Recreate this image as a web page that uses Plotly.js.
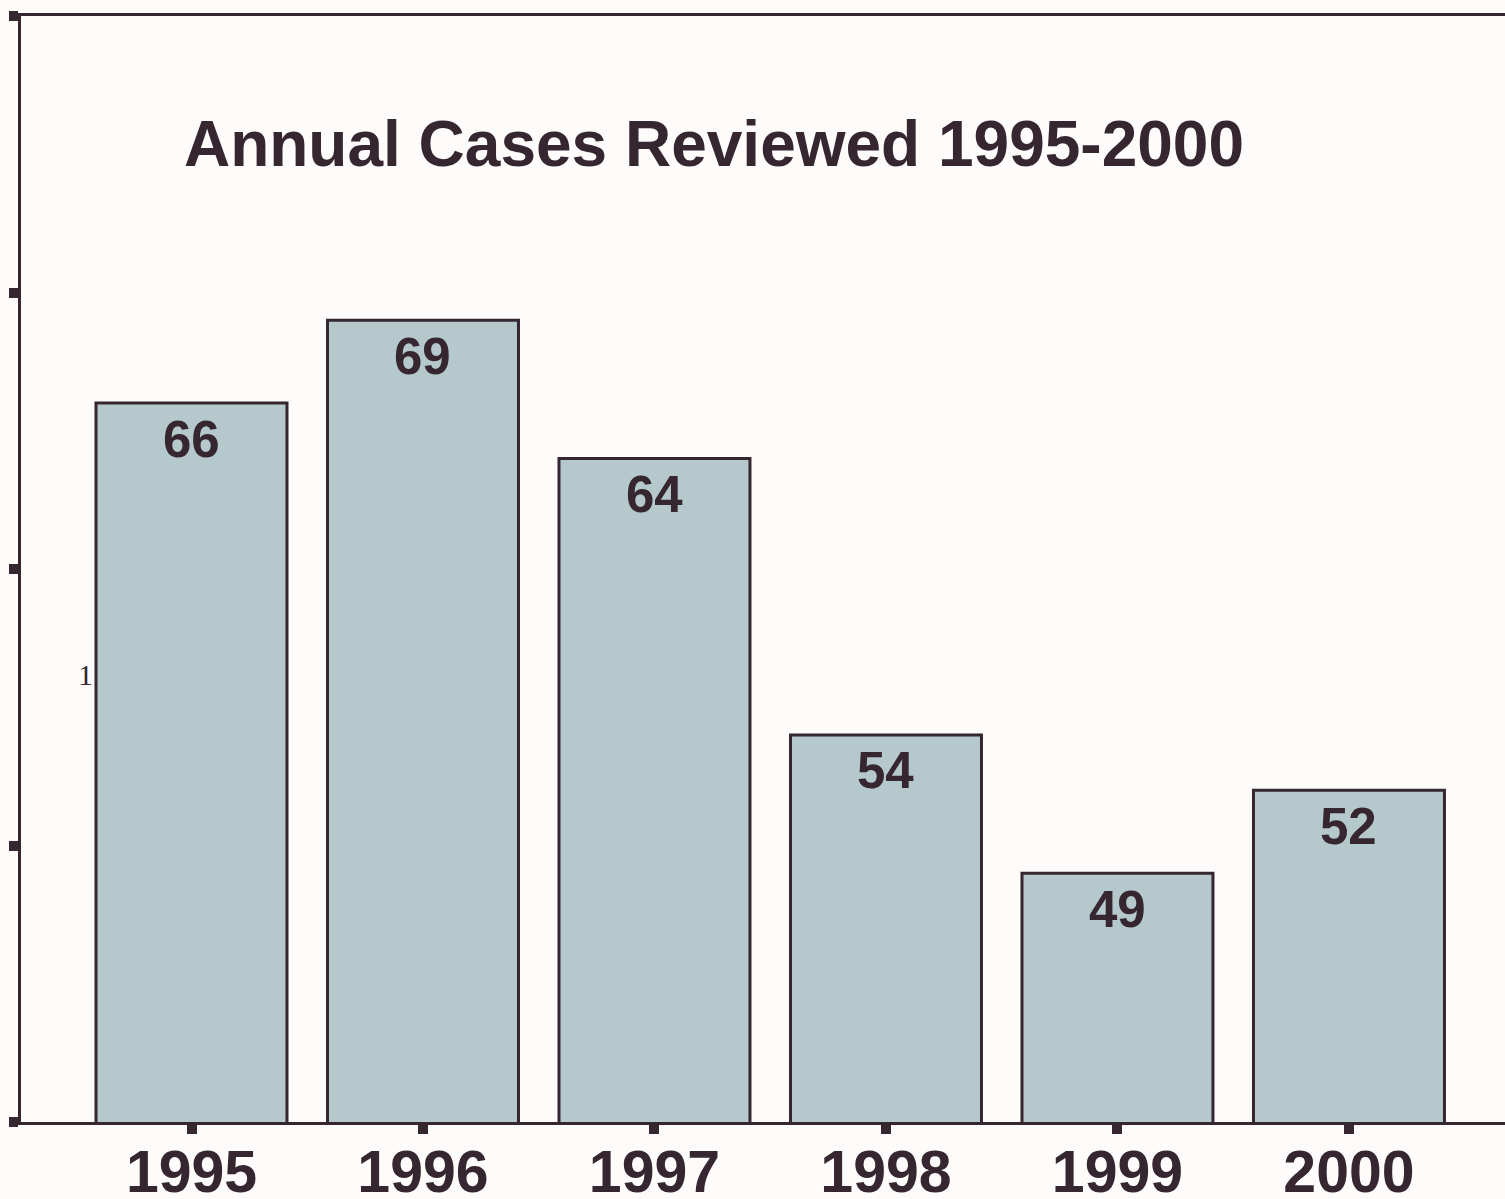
<!DOCTYPE html>
<html>
<head>
<meta charset="utf-8">
<script src="https://cdn.plot.ly/plotly-3.0.1.min.js"></script>
<style>html,body{margin:0;padding:0;background:#fdfcfb;}#chart{width:1505px;height:1199px;}</style>
</head>
<body>
<div id="chart"></div>
<script>
const years = ["1995", "1996", "1997", "1998", "1999", "2000"];
const cases = [66, 69, 64, 54, 49, 52];
const yTicks = [40, 50, 60, 70, 80];
const titleText = "Annual Cases Reviewed 1995-2000";
const strayLabel = "1";

const ink = "#35262f";
const font = "Liberation Sans, Arial, Helvetica, sans-serif";

const trace = {
  type: "bar",
  x: years,
  y: cases,
  width: 0.825,
  marker: { color: "#b5c8cc", line: { color: ink, width: 3 } },
  hoverinfo: "none"
};

const annotations = years.map((yr, i) => ({
  x: i, y: cases[i], xref: "x", yref: "y",
  text: "<b>" + String(cases[i]) + "</b>", showarrow: false,
  yanchor: "middle", xanchor: "center", yshift: -36,
  font: { family: font, size: 51, color: ink }
}));
annotations.push({
  xref: "paper", yref: "paper", x: 0.0434, y: 0.405,
  text: strayLabel, showarrow: false, xanchor: "center", yanchor: "middle",
  font: { family: "Liberation Serif, Times New Roman, serif", size: 30, color: ink }
});

const layout = {
  width: 1505, height: 1199,
  paper_bgcolor: "#fdfcfb", plot_bgcolor: "#fdfcfb",
  margin: { l: 21, r: 0, t: 16, b: 77, pad: 0 },
  showlegend: false,
  font: { family: font, color: ink },
  title: {
    text: "<b>" + titleText + "</b>",
    xref: "container", yref: "container",
    x: 0.4744, y: 0.880, xanchor: "center", yanchor: "middle",
    font: { family: font, size: 64, color: ink }
  },
  xaxis: {
    type: "category",
    range: [-0.7365, 5.674],
    showline: true, linecolor: ink, linewidth: 3, mirror: true,
    ticks: "outside", ticklen: 9, tickwidth: 10, tickcolor: ink,
    ticklabelstandoff: -13,
    showgrid: false, zeroline: false,
    tickfont: { family: font, size: 59, color: ink, weight: "bold" },
    fixedrange: true
  },
  yaxis: {
    range: [40, 80],
    tickvals: yTicks,
    showticklabels: false,
    showline: true, linecolor: ink, linewidth: 3,
    ticks: "outside", ticklen: 9, tickwidth: 10, tickcolor: ink,
    showgrid: false, zeroline: false,
    fixedrange: true
  },
  annotations: annotations
};

Plotly.newPlot("chart", [trace], layout, { displayModeBar: false, staticPlot: true });
</script>
</body>
</html>
